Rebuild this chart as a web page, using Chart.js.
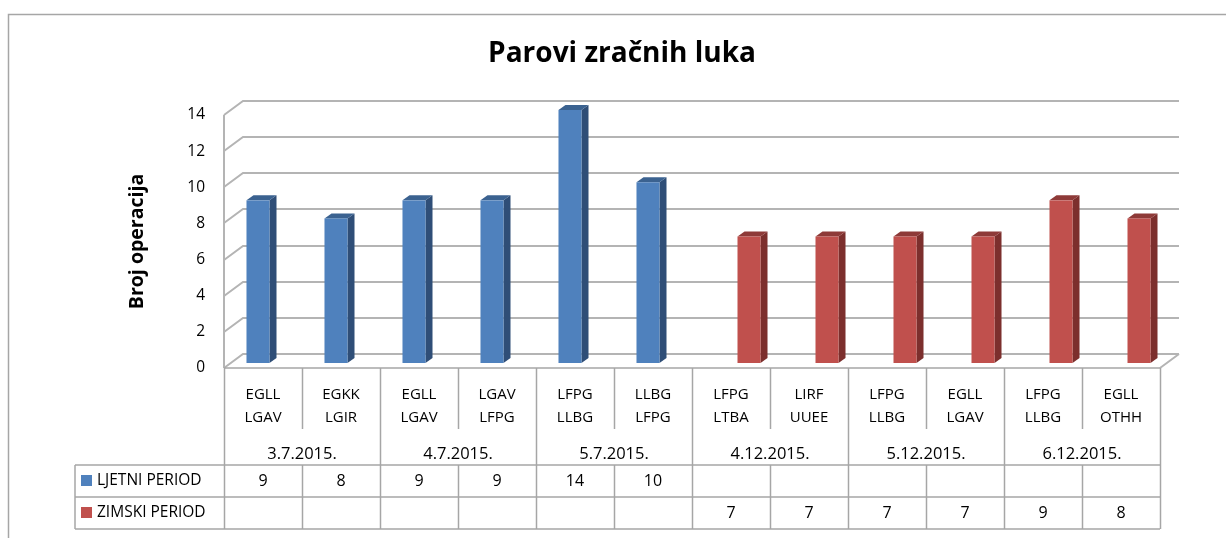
<!DOCTYPE html>
<html>
<head>
<meta charset="utf-8">
<script src="https://cdn.jsdelivr.net/npm/chart.js@4.4.1/dist/chart.umd.min.js"></script>
<style>
    html, body { margin: 0; padding: 0; background: #ffffff; }
    #wrap { width: 1226px; height: 538px; }
</style>
</head>
<body>
<div id="wrap"><canvas id="grafikon" width="1226" height="538"></canvas></div>
<script>
// Parovi zracnih luka (kategorije)
const parovi = [
    ['EGLL', 'LGAV'], ['EGKK', 'LGIR'], ['EGLL', 'LGAV'], ['LGAV', 'LFPG'],
    ['LFPG', 'LLBG'], ['LLBG', 'LFPG'], ['LFPG', 'LTBA'], ['LIRF', 'UUEE'],
    ['LFPG', 'LLBG'], ['EGLL', 'LGAV'], ['LFPG', 'LLBG'], ['EGLL', 'OTHH']
];
// Datumi - svaki datum pokriva dva para
const datumi = ['3.7.2015.', '4.7.2015.', '5.7.2015.', '4.12.2015.', '5.12.2015.', '6.12.2015.'];

const ljetniPeriod = [9, 8, 9, 9, 14, 10, null, null, null, null, null, null];
const zimskiPeriod = [null, null, null, null, null, null, 7, 7, 7, 7, 9, 8];

const yMin = 0;
const yMax = 14;
const yKorak = 2;

const FONT = '"Open Sans", Lato, sans-serif';

// pomak zadnjeg zida i dubina stupaca
const ZID_DX = 19, ZID_DY = 14;
const STUP_DX = 6.5, STUP_DY = 5;
const DUB_DX = 7, DUB_DY = 5;

const efekt3D = {
    id: 'efekt3D',
    beforeDraw(chart) {
        const ctx = chart.ctx;
        ctx.save();
        ctx.strokeStyle = '#a6a6a6';
        ctx.lineWidth = 1.5;
        ctx.strokeRect(8.5, 14.5, 1400, 700);
        ctx.restore();
    },
    beforeDatasetsDraw(chart) {
        const { ctx, chartArea: a, scales: { y } } = chart;
        ctx.save();

        // zidovi i mreza
        ctx.strokeStyle = '#b4b4b4';
        ctx.lineWidth = 2;
        ctx.beginPath();
        y.ticks.forEach(t => {
            const py = Math.round(y.getPixelForValue(t.value));
            ctx.moveTo(a.left, py);
            ctx.lineTo(a.left + ZID_DX, py - ZID_DY);
            ctx.lineTo(a.right + ZID_DX, py - ZID_DY);
        });
        ctx.moveTo(a.left, a.top);
        ctx.lineTo(a.left, a.bottom);
        ctx.moveTo(a.right, a.bottom);
        ctx.lineTo(a.right + ZID_DX, a.bottom - ZID_DY);
        ctx.stroke();

        // stupci
        chart.data.datasets.forEach((ds, i) => {
            const meta = chart.getDatasetMeta(i);
            meta.data.forEach((bar, j) => {
                if (ds.data[j] == null) return;
                const w = bar.width;
                const l = bar.x - w / 2 + STUP_DX;
                const r = l + w;
                const t = bar.y - STUP_DY;
                const b = bar.base - STUP_DY;

                ctx.fillStyle = ds.bojaBok;
                ctx.beginPath();
                ctx.moveTo(r, t);
                ctx.lineTo(r + DUB_DX, t - DUB_DY);
                ctx.lineTo(r + DUB_DX, b - DUB_DY);
                ctx.lineTo(r, b);
                ctx.closePath();
                ctx.fill();

                ctx.fillStyle = ds.bojaVrh;
                ctx.beginPath();
                ctx.moveTo(l, t);
                ctx.lineTo(l + DUB_DX, t - DUB_DY);
                ctx.lineTo(r + DUB_DX, t - DUB_DY);
                ctx.lineTo(r, t);
                ctx.closePath();
                ctx.fill();

                ctx.fillStyle = ds.backgroundColor;
                ctx.fillRect(l, t, w, b - t);
            });
        });
        ctx.restore();
        return false;
    },
    afterDraw(chart) {
        const { ctx, chartArea: a, scales: { x } } = chart;
        const n = parovi.length;
        const sirina = (a.right - a.left) / n;
        const granica = i => a.left + i * sirina;

        const yKat = a.bottom;
        const yUnutra = yKat + 61;
        const yRed1 = yKat + 97;
        const yRed2 = yRed1 + 32;
        const yKraj = yRed2 + 32;
        const legLijevo = 75;

        ctx.save();
        ctx.strokeStyle = '#a6a6a6';
        ctx.lineWidth = 1.5;
        ctx.beginPath();
        // prednji rub poda
        ctx.moveTo(a.left, yKat);
        ctx.lineTo(a.right, yKat);
        // vodoravne linije tablice
        [yRed1, yRed2, yKraj].forEach(py => {
            ctx.moveTo(legLijevo, py);
            ctx.lineTo(a.right, py);
        });
        ctx.moveTo(legLijevo, yRed1);
        ctx.lineTo(legLijevo, yKraj);
        for (let i = 0; i <= n; i++) {
            const px = Math.round(granica(i)) + 0.5;
            if (i % 2 === 0) {
                ctx.moveTo(px, yKat);
                ctx.lineTo(px, yKraj);
            } else {
                ctx.moveTo(px, yKat);
                ctx.lineTo(px, yUnutra);
                ctx.moveTo(px, yRed1);
                ctx.lineTo(px, yKraj);
            }
        }
        ctx.stroke();

        ctx.fillStyle = '#000000';
        ctx.textAlign = 'center';
        ctx.textBaseline = 'middle';
        ctx.font = '15px ' + FONT;
        parovi.forEach((par, i) => {
            const cx = x.getPixelForValue(i);
            ctx.fillText(par[0], cx, yKat + 27);
            ctx.fillText(par[1], cx, yKat + 50);
        });
        ctx.font = '16.5px ' + FONT;
        datumi.forEach((d, k) => {
            const cx = (granica(2 * k) + granica(2 * k + 2)) / 2;
            ctx.fillText(d, cx, yKat + 86);
        });

        chart.data.datasets.forEach((ds, i) => {
            const cy = yRed1 + 16 + i * 32;
            ctx.font = '16px ' + FONT;
            ds.data.forEach((v, j) => {
                if (v == null) return;
                ctx.fillText(String(v), x.getPixelForValue(j), cy);
            });
            ctx.fillStyle = ds.backgroundColor;
            ctx.fillRect(81, cy - 6, 11, 11);
            ctx.fillStyle = '#000000';
            ctx.textAlign = 'left';
            ctx.font = '15.5px ' + FONT;
            ctx.fillText(ds.label, 97, cy);
            ctx.textAlign = 'center';
        });
        ctx.restore();
    }
};

const ctx = document.getElementById('grafikon').getContext('2d');
new Chart(ctx, {
    type: 'bar',
    data: {
        labels: parovi,
        datasets: [
            {
                label: 'LJETNI PERIOD',
                data: ljetniPeriod,
                backgroundColor: '#4f81bd',
                bojaBok: '#2f4e77',
                bojaVrh: '#3b6290'
            },
            {
                label: 'ZIMSKI PERIOD',
                data: zimskiPeriod,
                backgroundColor: '#c0504d',
                bojaBok: '#7c2f2d',
                bojaVrh: '#8e3a38'
            }
        ]
    },
    options: {
        responsive: false,
        animation: false,
        layout: {
            padding: { left: 18, top: 0, right: 0, bottom: 170 }
        },
        datasets: {
            bar: { categoryPercentage: 0.59, barPercentage: 1 }
        },
        plugins: {
            legend: { display: false },
            tooltip: { enabled: false },
            title: {
                display: true,
                text: 'Parovi zračnih luka',
                color: '#000000',
                font: { family: FONT, size: 28, weight: 'bold' },
                padding: { top: 37.7, bottom: 43.7 }
            }
        },
        scales: {
            x: { display: false },
            y: {
                min: yMin,
                max: yMax,
                ticks: {
                    stepSize: yKorak,
                    color: '#000000',
                    padding: 19,
                    font: { family: FONT, size: 15.5 }
                },
                grid: { display: false, drawTicks: false },
                border: { display: false },
                title: {
                    display: true,
                    text: 'Broj operacija',
                    color: '#000000',
                    font: { family: FONT, size: 19.5, weight: 'bold' },
                    padding: { top: 107.3, bottom: 0 }
                },
                afterFit(scale) {
                    scale.width = 206;
                }
            },
            // prazan desni prostor do ruba (za centriranje naslova)
            desno: {
                position: 'right',
                display: true,
                ticks: { display: false },
                grid: { display: false, drawTicks: false },
                border: { display: false },
                afterFit(scale) {
                    scale.width = 66;
                }
            }
        }
    },
    plugins: [efekt3D]
});
</script>
</body>
</html>
